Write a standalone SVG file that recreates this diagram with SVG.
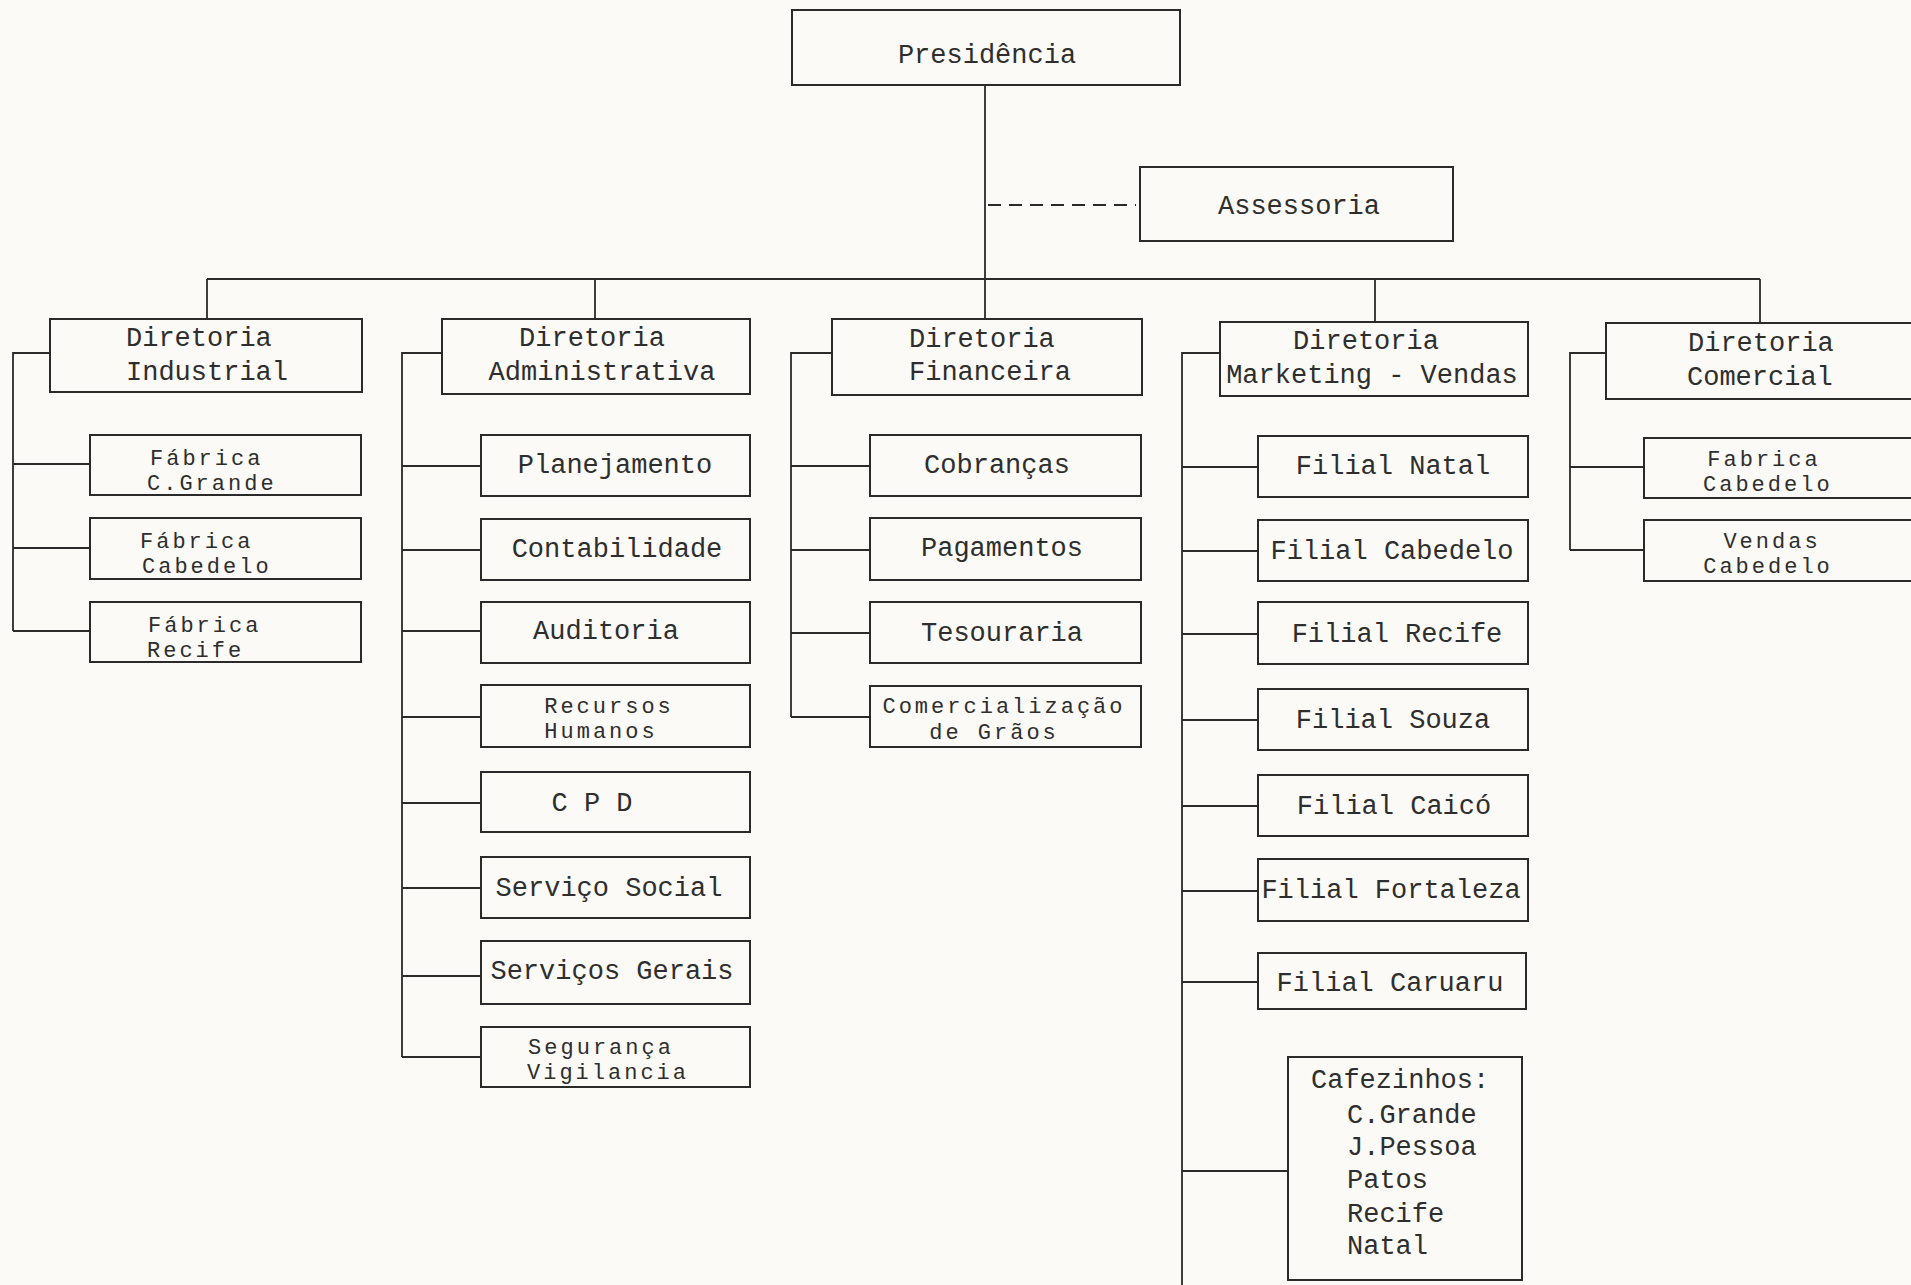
<svg xmlns="http://www.w3.org/2000/svg" width="1911" height="1285" viewBox="0 0 1911 1285">
<style>
.bg{fill:#fbfaf6}
.box{fill:none;stroke:#2a2a2a;stroke-width:2}
.ln{fill:none;stroke:#2a2a2a;stroke-width:1.8}
.dash{fill:none;stroke:#2a2a2a;stroke-width:2;stroke-dasharray:13 8}
text{font-family:"Liberation Mono","DejaVu Sans Mono",monospace;font-size:27px;fill:#2e2e2e}
text.sm{font-size:22px;letter-spacing:3px}
.c{text-anchor:middle}
</style>
<rect class="bg" x="0" y="0" width="1911" height="1285"/>
<g id="connectors">
<line class="ln" x1="985" y1="85" x2="985" y2="319"/>
<line class="dash" x1="988" y1="205" x2="1136" y2="205"/>
<line class="ln" x1="207" y1="279" x2="1760" y2="279"/>
<line class="ln" x1="207" y1="279" x2="207" y2="319"/>
<line class="ln" x1="595" y1="279" x2="595" y2="319"/>
<line class="ln" x1="1375" y1="279" x2="1375" y2="322"/>
<line class="ln" x1="1760" y1="279" x2="1760" y2="323"/>
<path class="ln" d="M50 353H13V631M13 464H90M13 548H90M13 631H90"/>
<path class="ln" d="M442 353H402V1057M402 466H481M402 550H481M402 631H481M402 717H481M402 803H481M402 888H481M402 976H481M402 1057H481"/>
<path class="ln" d="M832 353H791V717M791 466H870M791 550H870M791 633H870M791 717H870"/>
<path class="ln" d="M1220 353H1182V1285M1182 467H1258M1182 551H1258M1182 634H1258M1182 720H1258M1182 806H1258M1182 891H1258M1182 982H1258M1182 1171H1288"/>
<path class="ln" d="M1606 353H1570V550M1570 467H1644M1570 550H1644"/>
</g>
<g id="presidencia"><rect class="box" x="792" y="10" width="388" height="75"/><text class="c" x="987" y="63">Presidência</text></g>
<g id="assessoria"><rect class="box" x="1140" y="167" width="313" height="74"/><text class="c" x="1299" y="214">Assessoria</text></g>
<g id="dir-industrial"><rect class="box" x="50" y="319" width="312" height="73"/><text x="126" y="346">Diretoria</text><text x="126" y="380">Industrial</text></g>
<g id="dir-administrativa"><rect class="box" x="442" y="319" width="308" height="75"/><text class="c" x="592" y="346">Diretoria</text><text class="c" x="602" y="380">Administrativa</text></g>
<g id="dir-financeira"><rect class="box" x="832" y="319" width="310" height="76"/><text x="909" y="347">Diretoria</text><text x="909" y="380">Financeira</text></g>
<g id="dir-marketing"><rect class="box" x="1220" y="322" width="308" height="74"/><text class="c" x="1366" y="349">Diretoria</text><text class="c" x="1372" y="383">Marketing - Vendas</text></g>
<g id="dir-comercial"><rect class="box" x="1606" y="323" width="320" height="76"/><text x="1688" y="351">Diretoria</text><text x="1687" y="385">Comercial</text></g>
<g id="fab-cgrande"><rect class="box" x="90" y="435" width="271" height="60"/><text class="sm" x="150" y="465">Fábrica</text><text class="sm" x="147" y="490">C.Grande</text></g>
<g id="fab-cabedelo"><rect class="box" x="90" y="518" width="271" height="61"/><text class="sm" x="140" y="548">Fábrica</text><text class="sm" x="142" y="573">Cabedelo</text></g>
<g id="fab-recife"><rect class="box" x="90" y="602" width="271" height="60"/><text class="sm" x="148" y="632">Fábrica</text><text class="sm" x="147" y="657">Recife</text></g>
<g id="planejamento"><rect class="box" x="481" y="435" width="269" height="61"/><text class="c" x="615" y="473">Planejamento</text></g>
<g id="contabilidade"><rect class="box" x="481" y="519" width="269" height="61"/><text class="c" x="617" y="557">Contabilidade</text></g>
<g id="auditoria"><rect class="box" x="481" y="602" width="269" height="61"/><text class="c" x="606" y="639">Auditoria</text></g>
<g id="recursos-humanos"><rect class="box" x="481" y="685" width="269" height="62"/><text class="sm c" x="609" y="713">Recursos</text><text class="sm c" x="601" y="738">Humanos</text></g>
<g id="cpd"><rect class="box" x="481" y="772" width="269" height="60"/><text class="c" x="592" y="811">C P D</text></g>
<g id="servico-social"><rect class="box" x="481" y="857" width="269" height="61"/><text class="c" x="609" y="896">Serviço Social</text></g>
<g id="servicos-gerais"><rect class="box" x="481" y="941" width="269" height="63"/><text class="c" x="612" y="979">Serviços Gerais</text></g>
<g id="seguranca"><rect class="box" x="481" y="1027" width="269" height="60"/><text class="sm c" x="601" y="1054">Segurança</text><text class="sm c" x="608" y="1079">Vigilancia</text></g>
<g id="cobrancas"><rect class="box" x="870" y="435" width="271" height="61"/><text class="c" x="997" y="473">Cobranças</text></g>
<g id="pagamentos"><rect class="box" x="870" y="518" width="271" height="62"/><text class="c" x="1002" y="556">Pagamentos</text></g>
<g id="tesouraria"><rect class="box" x="870" y="602" width="271" height="61"/><text class="c" x="1002" y="641">Tesouraria</text></g>
<g id="comercializacao"><rect class="box" x="870" y="686" width="271" height="61"/><text class="sm c" x="1004" y="713">Comercialização</text><text class="sm c" x="994" y="739">de Grãos</text></g>
<g id="filial-natal"><rect class="box" x="1258" y="436" width="270" height="61"/><text class="c" x="1393" y="474">Filial Natal</text></g>
<g id="filial-cabedelo"><rect class="box" x="1258" y="520" width="270" height="61"/><text class="c" x="1392" y="559">Filial Cabedelo</text></g>
<g id="filial-recife"><rect class="box" x="1258" y="602" width="270" height="62"/><text class="c" x="1397" y="642">Filial Recife</text></g>
<g id="filial-souza"><rect class="box" x="1258" y="689" width="270" height="61"/><text class="c" x="1393" y="728">Filial Souza</text></g>
<g id="filial-caico"><rect class="box" x="1258" y="775" width="270" height="61"/><text class="c" x="1394" y="814">Filial Caicó</text></g>
<g id="filial-fortaleza"><rect class="box" x="1258" y="859" width="270" height="62"/><text class="c" x="1391" y="898">Filial Fortaleza</text></g>
<g id="filial-caruaru"><rect class="box" x="1258" y="953" width="268" height="56"/><text class="c" x="1390" y="991">Filial Caruaru</text></g>
<g id="cafezinhos"><rect class="box" x="1288" y="1057" width="234" height="223"/><text x="1311" y="1088">Cafezinhos:</text><text x="1347" y="1123">C.Grande</text><text x="1347" y="1155">J.Pessoa</text><text x="1347" y="1188">Patos</text><text x="1347" y="1222">Recife</text><text x="1347" y="1254">Natal</text></g>
<g id="com-fabrica"><rect class="box" x="1644" y="438" width="280" height="60"/><text class="sm c" x="1764" y="466">Fabrica</text><text class="sm" x="1703" y="491">Cabedelo</text></g>
<g id="com-vendas"><rect class="box" x="1644" y="520" width="280" height="61"/><text class="sm c" x="1772" y="548">Vendas</text><text class="sm c" x="1768" y="573">Cabedelo</text></g>
</svg>
